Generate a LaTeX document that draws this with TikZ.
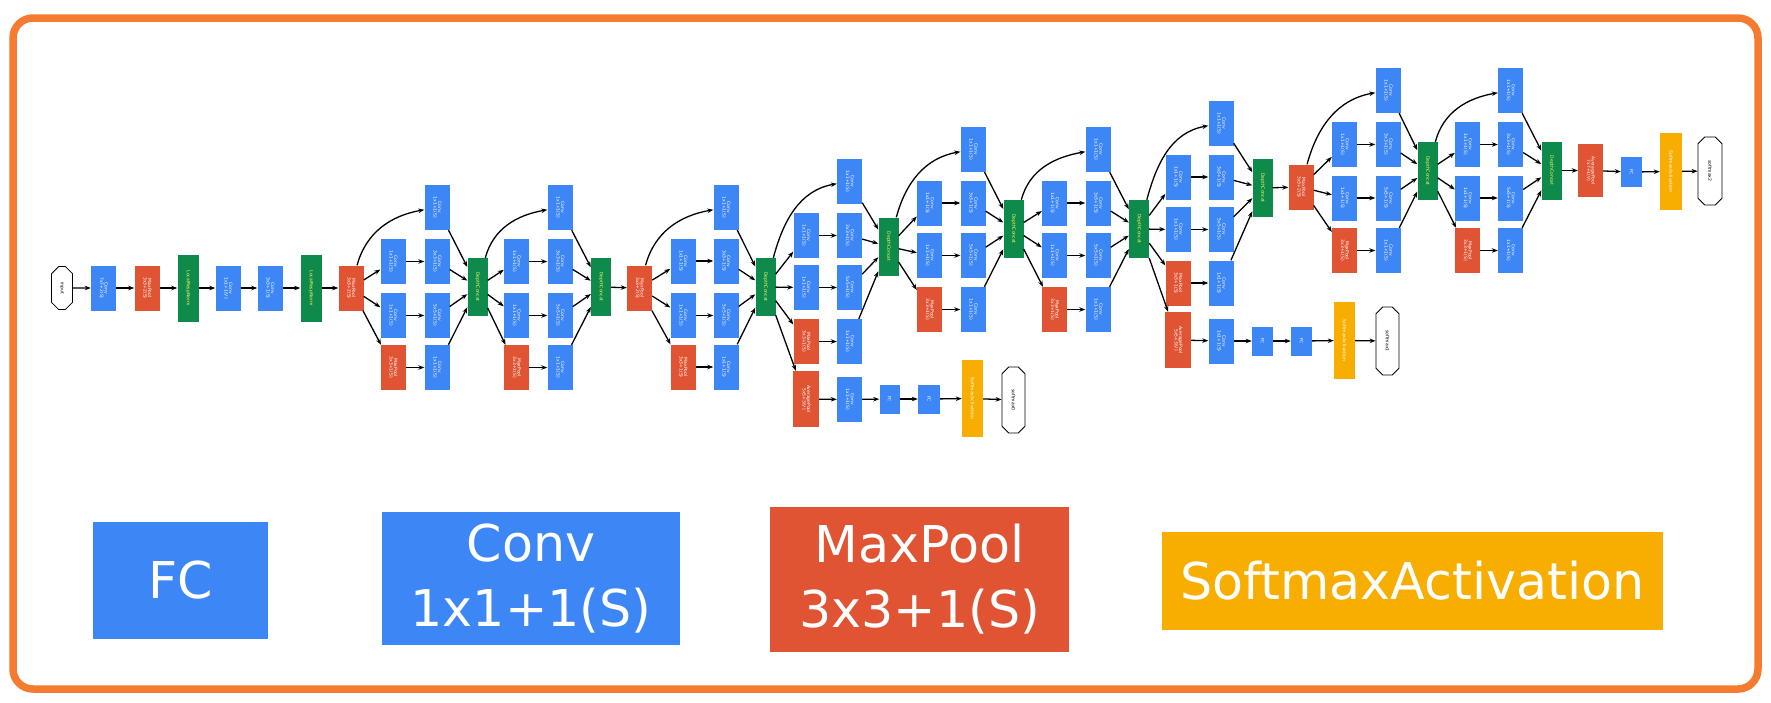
\documentclass[tikz,border=0pt]{standalone}
\usepackage{fontspec}
\setmainfont{DejaVu Sans}
\usepackage{graphicx}
\usetikzlibrary{arrows.meta,shapes.misc}
\definecolor{gblue}{HTML}{3D86F5}
\definecolor{gred}{HTML}{E05434}
\definecolor{ggreen}{HTML}{0E8A4A}
\definecolor{gyellow}{HTML}{F8AE00}
\definecolor{bord}{HTML}{F47B30}
\newcommand\vt[2]{\rotatebox{-90}{\def\arraystretch{0.8}\begin{tabular}{@{}c@{}}#1\\#2\end{tabular}}}
\newcommand\vo[1]{\rotatebox{-90}{#1}}
\tikzset{
 box/.style={draw=none, inner sep=0pt, text=white, font=\fontsize{4.5}{5}\selectfont},
 conv/.style={box, fill=gblue, minimum width=25pt, minimum height=45pt},
 pool/.style={box, fill=gred, minimum width=25pt, minimum height=45pt},
 concat/.style={box, fill=ggreen, minimum width=20pt, minimum height=58pt, text=yellow!60!white},
 lrn/.style={box, fill=ggreen, minimum width=21pt, minimum height=67pt, text=yellow!60!white},
 fcb/.style={box, fill=gblue, minimum width=20pt, minimum height=29pt},
 smax/.style={box, fill=gyellow, minimum width=21pt, minimum height=77pt},
 avg/.style={box, fill=gred, minimum width=26pt, minimum height=56pt},
 octo/.style={draw=black, line width=0.8pt, fill=white, chamfered rectangle, chamfered rectangle xsep=5pt, chamfered rectangle ysep=10pt, minimum width=22pt, minimum height=66pt, inner sep=0pt, font=\fontsize{4.5}{5}\selectfont, text=black},
 arr/.style={-{Stealth[length=6pt,width=4.5pt]}, line width=1.3pt, black},
 legend/.style={inner sep=0pt, text=white, align=center, font=\fontsize{50.7}{65}\selectfont},
}
\newcommand\incep[9]{%
 \node[conv] (#1t) at (#4,#5) {\vt{Conv}{1x1+1(S)}};
 \node[conv] (#1a) at (#3,#6) {\vt{Conv}{1x1+1(S)}};
 \node[conv] (#1b) at (#4,#6) {\vt{Conv}{3x3+1(S)}};
 \node[conv] (#1c) at (#3,#7) {\vt{Conv}{1x1+1(S)}};
 \node[conv] (#1d) at (#4,#7) {\vt{Conv}{5x5+1(S)}};
 \node[pool] (#1e) at (#3,#8) {\vt{MaxPool}{3x3+1(S)}};
 \node[conv] (#1f) at (#4,#8) {\vt{Conv}{1x1+1(S)}};
 \node[concat] (#1cc) at (#9) {\vo{DepthConcat}};
 \draw[arr] (#2) to[out=75,in=190] (#1t);
 \draw[arr] (#2) -- (#1a);
 \draw[arr] (#2) -- (#1c);
 \draw[arr] (#2) -- (#1e);
 \draw[arr] (#1a) -- (#1b);
 \draw[arr] (#1c) -- (#1d);
 \draw[arr] (#1e) -- (#1f);
 \draw[arr] (#1t) -- (#1cc);
 \draw[arr] (#1b) -- (#1cc);
 \draw[arr] (#1d) -- (#1cc);
 \draw[arr] (#1f) -- (#1cc);
}
\begin{document}
\begin{tikzpicture}[x=1pt,y=1pt]
\useasboundingbox (0,0) rectangle (1771,-702);
\draw[bord, line width=7.5pt, rounded corners=20pt] (13,-18) rectangle (1758,-689);
% main stem
\node[octo, minimum width=21pt, minimum height=43pt, chamfered rectangle ysep=7pt] (in) at (62,-288) {\vo{input}};
\node[conv] (c1) at (103.5,-288) {\vt{Conv}{7x7+2(S)}};
\node[pool] (p1) at (147,-288) {\vt{MaxPool}{3x3+2(S)}};
\node[lrn] (n1) at (188,-288) {\vo{LocalRespNorm}};
\node[conv] (c2) at (228,-288) {\vt{Conv}{1x1+1(V)}};
\node[conv] (c3) at (270,-288) {\vt{Conv}{3x3+1(S)}};
\node[lrn] (n2) at (311,-288) {\vo{LocalRespNorm}};
\node[pool] (p2) at (351,-288) {\vt{MaxPool}{3x3+2(S)}};
\draw[arr] (in) -- (c1);
\draw[arr] (c1) -- (p1);
\draw[arr] (p1) -- (n1);
\draw[arr] (n1) -- (c2);
\draw[arr] (c2) -- (c3);
\draw[arr] (c3) -- (n2);
\draw[arr] (n2) -- (p2);
% inception modules
\incep{ia}{p2}{393}{437}{-207.5}{-261.5}{-315.5}{-367.5}{477.5,-287}
\incep{ib}{iacc}{516.5}{560}{-207.5}{-261.5}{-315.5}{-367.5}{601,-287}
\node[pool] (p3) at (639.5,-288) {\vt{MaxPool}{3x3+2(S)}};
\draw[arr] (ibcc) -- (p3);
\incep{ic}{p3}{683}{726}{-207.5}{-261}{-315.5}{-367}{765.5,-287}
\incep{id}{iccc}{806}{849.5}{-181.5}{-235.5}{-287.5}{-341.5}{888.5,-246.5}
\incep{ie}{idcc}{929.5}{973}{-149.5}{-203}{-255.5}{-309.5}{1013.5,-229}
\incep{if}{iecc}{1054.5}{1098}{-149.5}{-203}{-255.5}{-309.5}{1139,-229}
\incep{ig}{ifcc}{1178}{1221}{-123.5}{-177}{-229.5}{-283}{1262.5,-188}
\node[pool] (p4) at (1301,-187) {\vt{MaxPool}{3x3+2(S)}};
\draw[arr] (igcc) -- (p4);
\incep{ih}{p4}{1344.5}{1388}{-90.5}{-144.5}{-198}{-250.5}{1427.5,-171}
\incep{ii}{ihcc}{1467.5}{1510.5}{-90.5}{-144.5}{-198}{-250.5}{1551.5,-170.5}
% head
\node[avg, minimum width=25pt, minimum height=53pt] (ap) at (1590.5,-170.5) {\vt{AveragePool}{7x7+1(V)}};
\node[fcb, minimum width=21pt, minimum height=30pt] (fc) at (1631.5,-172) {\vo{FC}};
\node[smax, minimum width=22pt] (sm) at (1671,-171.5) {\vo{SoftmaxActivation}};
\node[octo, minimum width=24pt, minimum height=68pt] (out) at (1710,-171) {\vo{softmax2}};
\draw[arr] (iicc) -- (ap);
\draw[arr] (ap) -- (fc);
\draw[arr] (fc) -- (sm);
\draw[arr] (sm) -- (out);
% auxiliary classifier 1
\node[avg] (ap1) at (806,-399) {\vt{AveragePool}{5x5+3(V)}};
\node[conv] (cx1) at (849.5,-399.5) {\vt{Conv}{1x1+1(S)}};
\node[fcb] (fa1) at (889.5,-399) {\vo{FC}};
\node[fcb, minimum width=22pt] (fb1) at (929,-399) {\vo{FC}};
\node[smax] (sm1) at (972.5,-398.5) {\vo{SoftmaxActivation}};
\node[octo, minimum width=23pt] (o1) at (1013.5,-400) {\vo{softmax0}};
\draw[arr] (iccc) -- (ap1);
\draw[arr] (ap1) -- (cx1);
\draw[arr] (cx1) -- (fa1);
\draw[arr] (fa1) -- (fb1);
\draw[arr] (fb1) -- (sm1);
\draw[arr] (sm1) -- (o1);
% auxiliary classifier 2
\node[avg] (ap2) at (1178,-340) {\vt{AveragePool}{5x5+3(V)}};
\node[conv] (cx2) at (1221,-341) {\vt{Conv}{1x1+1(S)}};
\node[fcb, minimum width=21pt] (fa2) at (1262.5,-341) {\vo{FC}};
\node[fcb, minimum width=21pt] (fb2) at (1301.5,-341) {\vo{FC}};
\node[smax] (sm2) at (1344.5,-340.5) {\vo{SoftmaxActivation}};
\node[octo, minimum width=23pt, minimum height=68pt] (o2) at (1387.5,-341) {\vo{softmax1}};
\draw[arr] (ifcc) -- (ap2);
\draw[arr] (ap2) -- (cx2);
\draw[arr] (cx2) -- (fa2);
\draw[arr] (fa2) -- (fb2);
\draw[arr] (fb2) -- (sm2);
\draw[arr] (sm2) -- (o2);
% legend
\node[legend, fill=gblue, minimum width=175pt, minimum height=117pt] (lfc) at (180.5,-580.5) {FC};
\node[legend, fill=gblue, minimum width=298pt, minimum height=133pt] (lconv) at (531,-578.5) {Conv\\1x1+1(S)};
\node[legend, fill=gred, minimum width=299pt, minimum height=145pt] (lpool) at (919.5,-579.5) {MaxPool\\3x3+1(S)};
\node[legend, fill=gyellow, minimum width=501pt, minimum height=98pt] (lsm) at (1412.5,-581) {SoftmaxActivation};
\end{tikzpicture}
\end{document}
